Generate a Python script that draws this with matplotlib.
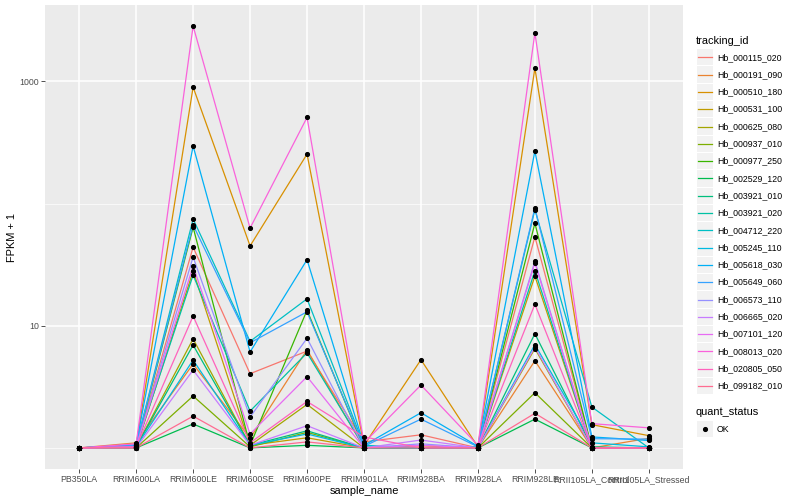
import matplotlib
matplotlib.use('Agg')
import matplotlib.pyplot as plt
import numpy as np
from matplotlib.patches import Rectangle
from matplotlib.lines import Line2D

plt.rcParams['font.family'] = ['Liberation Sans', 'DejaVu Sans']

samples = ['PB350LA', 'RRIM600LA', 'RRIM600LE', 'RRIM600SE', 'RRIM600PE', 'RRIM901LA',
           'RRIM928BA', 'RRIM928LA', 'RRIM928LE', 'RRII105LA_Control', 'RRII105LA_Stressed']

tracking_ids = ['Hb_000115_020', 'Hb_000191_090', 'Hb_000510_180', 'Hb_000531_100',
                'Hb_000625_080', 'Hb_000937_010', 'Hb_000977_250', 'Hb_002529_120',
                'Hb_003921_010', 'Hb_003921_020', 'Hb_004712_220', 'Hb_005245_110',
                'Hb_005618_030', 'Hb_005649_060', 'Hb_006573_110', 'Hb_006665_020',
                'Hb_007101_120', 'Hb_008013_020', 'Hb_020805_050', 'Hb_099182_010']

# FPKM + 1, one row per tracking_id, one column per sample
fpkm_plus1 = [
    [1.0, 1.02, 44, 4.05, 6.2, 1.12, 1.28, 1.0, 53.5, 1.0, 1.0],
    [1.0, 1.1, 4.86, 1.2, 6.35, 1.0, 1.04, 1.0, 5.17, 1.0, 1.2],
    [1.0, 1.05, 898, 45, 254, 1.05, 5.27, 1.02, 1285, 1.55, 1.26],
    [1.0, 1.0, 28, 1.05, 1.21, 1.0, 1.0, 1.0, 25.5, 1.0, 1.0],
    [1.0, 1.02, 7.8, 1.05, 2.27, 1.0, 1.0, 1.0, 6.5, 1.0, 1.0],
    [1.0, 1.0, 2.66, 1.02, 1.34, 1.0, 1.0, 1.0, 2.83, 1.0, 1.0],
    [1.0, 1.03, 64, 1.05, 13.4, 1.0, 1.0, 1.0, 69, 1.0, 1.0],
    [1.0, 1.0, 1.57, 1.0, 1.05, 1.0, 1.0, 1.0, 1.72, 1.0, 1.0],
    [1.0, 1.02, 6.95, 1.05, 1.38, 1.0, 1.0, 1.0, 8.6, 1.02, 1.0],
    [1.0, 1.03, 26, 2.0, 6.0, 1.02, 1.0, 1.0, 28.2, 1.0, 1.0],
    [1.0, 1.05, 74.7, 7.45, 16.6, 1.05, 1.0, 1.02, 89, 2.16, 1.0],
    [1.0, 1.02, 5.24, 1.05, 1.3, 1.0, 1.0, 1.0, 7.0, 1.1, 1.02],
    [1.0, 1.06, 296, 6.1, 34.7, 1.05, 1.94, 1.03, 269, 1.23, 1.15],
    [1.0, 1.05, 66.7, 7.25, 13.0, 1.03, 1.72, 1.02, 92, 1.19, 1.18],
    [1.0, 1.02, 36.5, 1.79, 7.9, 1.0, 1.08, 1.0, 33.6, 1.0, 1.0],
    [1.0, 1.0, 4.34, 1.05, 1.52, 1.0, 1.16, 1.0, 6.7, 1.0, 1.0],
    [1.0, 1.02, 30.8, 1.3, 3.83, 1.0, 1.05, 1.0, 32.6, 1.0, 1.0],
    [1.0, 1.08, 2836, 63, 507, 1.1, 3.27, 1.05, 2500, 1.58, 1.46],
    [1.0, 1.02, 12, 1.1, 2.4, 1.23, 1.0, 1.0, 15, 1.0, 1.0],
    [1.0, 1.0, 1.82, 1.0, 1.12, 1.0, 1.0, 1.0, 1.92, 1.0, 1.0],
]

colors = ['#F8766D', '#EA8331', '#D89000', '#C09B00', '#A3A500', '#7CAE00', '#39B600',
          '#00BB4E', '#00BF7D', '#00C1A3', '#00BFC4', '#00BAE0', '#00B0F6', '#35A2FF',
          '#9590FF', '#C77CFF', '#E76BF3', '#FA62DB', '#FF62BC', '#FF6C91']

W, H = 800, 500
fig = plt.figure(figsize=(8, 5), dpi=100)
ax = fig.add_axes([45 / W, 1 - 469 / H, (683 - 45) / W, (469 - 5) / H])
ax.set_facecolor('#EBEBEB')

x = np.arange(len(samples))
vals = np.array(fpkm_plus1, dtype=float)
for row, c in zip(vals, colors):
    ax.plot(x, row, color=c, linewidth=0.9, zorder=3)
for row in vals:
    ax.plot(x, row, linestyle='none', marker='o', markersize=2.7, color='black', zorder=4)

ax.set_yscale('log')
lo, hi = np.log10(vals.min()), np.log10(vals.max())
pad = 0.05 * (hi - lo)
ax.set_ylim(10 ** (lo - pad), 10 ** (hi + pad))
ax.set_xlim(-0.6, len(samples) - 0.4)

ax.set_yticks([10, 1000])
ax.set_yticklabels(['10', '1000'])
ax.set_yticks([1, 100], minor=True)
ax.set_yticklabels([], minor=True)
ax.set_xticks(x)
ax.set_xticklabels(samples)

ax.grid(which='major', color='white', linewidth=1.1, zorder=0)
ax.grid(which='minor', axis='y', color='white', linewidth=0.5, zorder=0)
ax.set_axisbelow(True)
for s in ax.spines.values():
    s.set_visible(False)
ax.tick_params(which='major', length=2.75, width=0.6, color='#333333',
               labelcolor='#4D4D4D', labelsize=6.3, pad=1.5)
ax.tick_params(which='minor', length=0)

ax.set_xlabel('sample_name', fontsize=7.9, labelpad=1.5)
ax.set_ylabel('FPKM + 1', fontsize=7.9, labelpad=2)

# legend drawn by hand, ggplot style
def px(xp, yp):
    return xp / W, 1 - yp / H

fig.text(*px(696, 41), 'tracking_id', fontsize=7.9, va='center', ha='left')
key = 17.3
y0 = 57.3
for i, (tid, c) in enumerate(zip(tracking_ids, colors)):
    yc = y0 + i * key
    fig.add_artist(Rectangle(px(697, yc + key / 2 - 0.5), 16 / W, (key - 1) / H,
                             facecolor='#F2F2F2', edgecolor='none', transform=fig.transFigure))
    fig.add_artist(Line2D([698 / W, 712 / W], [1 - yc / H, 1 - yc / H], color=c,
                          linewidth=0.9, transform=fig.transFigure))
    fig.text(*px(717, yc), tid, fontsize=6.3, va='center', ha='left')

fig.text(*px(696, 412), 'quant_status', fontsize=7.9, va='center', ha='left')
yc = 429
fig.add_artist(Rectangle(px(697, yc + key / 2 - 0.5), 16 / W, (key - 1) / H,
                         facecolor='#F2F2F2', edgecolor='none', transform=fig.transFigure))
fig.add_artist(Line2D([705 / W], [1 - yc / H], marker='o', markersize=2.7, color='black',
                      linestyle='none', transform=fig.transFigure))
fig.text(*px(717, yc), 'OK', fontsize=6.3, va='center', ha='left')

fig.savefig('out.png', dpi=100)
